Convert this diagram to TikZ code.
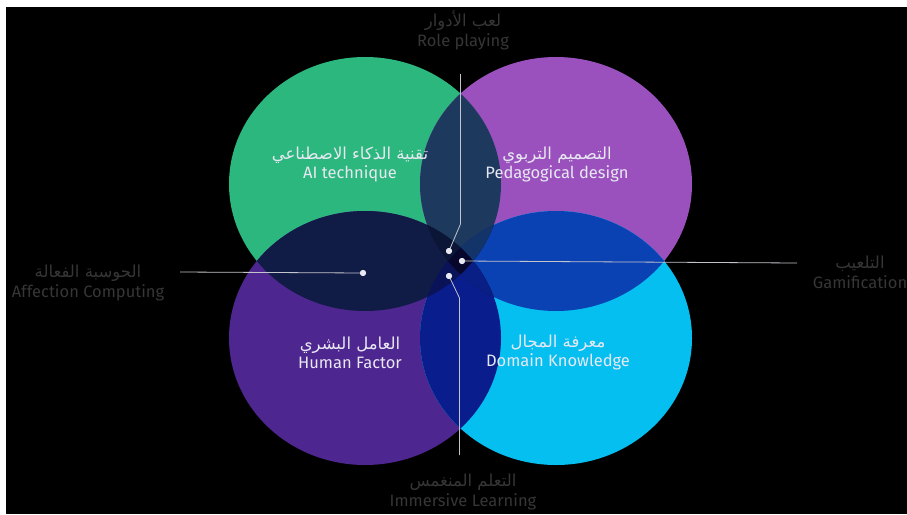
\documentclass[tikz,border=0pt]{standalone}
\usepackage{fontspec}
\setmainfont{Fira Sans}
\newfontfamily\arabicfont[Script=Arabic]{DejaVu Sans}
\TeXXeTstate=1

% fills of the four fields and of their overlaps
\definecolor{cGreen}{HTML}{2CB77E}
\definecolor{cPurple}{HTML}{9A51BE}
\definecolor{cHuman}{HTML}{4E2690}
\definecolor{cCyan}{HTML}{05BFF0}
\definecolor{cGP}{HTML}{1D3A5E}
\definecolor{cGH}{HTML}{101C45}
\definecolor{cPC}{HTML}{0A42B4}
\definecolor{cHC}{HTML}{0A1D8C}
\definecolor{cGPH}{HTML}{0B1636}
\definecolor{cGPC}{HTML}{123468}
\definecolor{cGHC}{HTML}{0A1258}
\definecolor{cPHC}{HTML}{0A1F86}
\definecolor{cAll}{HTML}{06072A}
\definecolor{capGray}{HTML}{363636}
\definecolor{inWhite}{HTML}{E8E8F2}
\definecolor{linkGray}{HTML}{C4C4CC}

\tikzstyle{caption} = [align=center, text=capGray, inner sep=0pt, font=\fontsize{16.5}{20}\selectfont]
\tikzstyle{inlabel} = [align=center, text=inWhite, inner sep=0pt, font=\fontsize{16.5}{19}\selectfont]
\tikzstyle{link} = [draw=linkGray, line width=0.8pt]
\tikzstyle{dot} = [circle, fill=inWhite, inner sep=0pt, minimum size=6pt]

\newcommand{\artext}[1]{{\arabicfont\beginR #1\endR}}
\newcommand{\ellG}{(365,184) ellipse [x radius=136, y radius=127]}
\newcommand{\ellP}{(556,184) ellipse [x radius=136, y radius=127]}
\newcommand{\ellH}{(365,338) ellipse [x radius=136, y radius=127]}
\newcommand{\ellC}{(556,338) ellipse [x radius=136, y radius=127]}

\begin{document}
\begin{tikzpicture}[x=1pt, y=-1pt]
\fill[white] (0,0) rectangle (907,514);
\fill[black] (6,7) rectangle (907,514);
\useasboundingbox (0,0) rectangle (907,514);

% the four fields
\fill[cGreen] \ellG;
\fill[cPurple] \ellP;
\fill[cHuman] \ellH;
\fill[cCyan] \ellC;

% two-way overlaps
\begin{scope} \clip \ellG; \fill[cGP] \ellP; \end{scope}
\begin{scope} \clip \ellG; \fill[cGH] \ellH; \end{scope}
\begin{scope} \clip \ellP; \fill[cPC] \ellC; \end{scope}
\begin{scope} \clip \ellH; \fill[cHC] \ellC; \end{scope}
\begin{scope} \clip \ellG; \fill[cGHC] \ellC; \end{scope}
\begin{scope} \clip \ellP; \fill[cGPH] \ellH; \end{scope}

% three-way overlaps
\begin{scope} \clip \ellG; \clip \ellP; \fill[cGPH] \ellH; \end{scope}
\begin{scope} \clip \ellG; \clip \ellP; \fill[cGPC] \ellC; \end{scope}
\begin{scope} \clip \ellG; \clip \ellH; \fill[cGHC] \ellC; \end{scope}
\begin{scope} \clip \ellP; \clip \ellH; \fill[cPHC] \ellC; \end{scope}
\begin{scope} \clip \ellG; \clip \ellP; \clip \ellH; \fill[cAll] \ellC; \end{scope}

% labels inside the fields
\node[inlabel] (ai)  at (350,164.5) {\artext{تقنية الذكاء الاصطناعي}\\AI technique};
\node[inlabel] (ped) at (557,164.5) {\artext{التصميم التربوي}\\Pedagogical design};
\node[inlabel] (hum) at (350,352.5) {\artext{العامل البشري}\\Human Factor};
\node[inlabel] (dom) at (558,352.5) {\artext{معرفة المجال}\\Domain Knowledge};

% outer captions
\node[caption] (role) at (463,30)  {\artext{لعب الأدوار}\\Role playing};
\node[caption] (aff)  at (88,283)  {\artext{الحوسبة الفعالة}\\Affection Computing};
\node[caption] (gam)  at (860,272) {\artext{التلعيب}\\Gamification};
\node[caption] (imm)  at (463,492) {\artext{التعلم المنغمس}\\Immersive Learning};

% pointer ends
\coordinate (roleEnd)  at (460.5,74);
\coordinate (roleBend) at (460.5,224);
\coordinate (affEnd)   at (180,272);
\coordinate (gamEnd)   at (797,263);
\coordinate (immBend)  at (459.5,298);
\coordinate (immEnd)   at (459.5,455);

\node[dot] (roleDot) at (449,251) {};
\node[dot] (gamDot)  at (462,261) {};
\node[dot] (immDot)  at (449,276) {};
\node[dot] (affDot)  at (363,273) {};

\draw[link] (roleEnd) -- (roleBend) -- (roleDot.center);
\draw[link] (gamDot.center) -- (gamEnd);
\draw[link] (immDot.center) -- (immBend) -- (immEnd);
\draw[link] (affEnd) -- (affDot.center);

% dots on top of the lines
\node[dot] at (roleDot) {};
\node[dot] at (gamDot) {};
\node[dot] at (immDot) {};
\node[dot] at (affDot) {};
\end{tikzpicture}
\end{document}
